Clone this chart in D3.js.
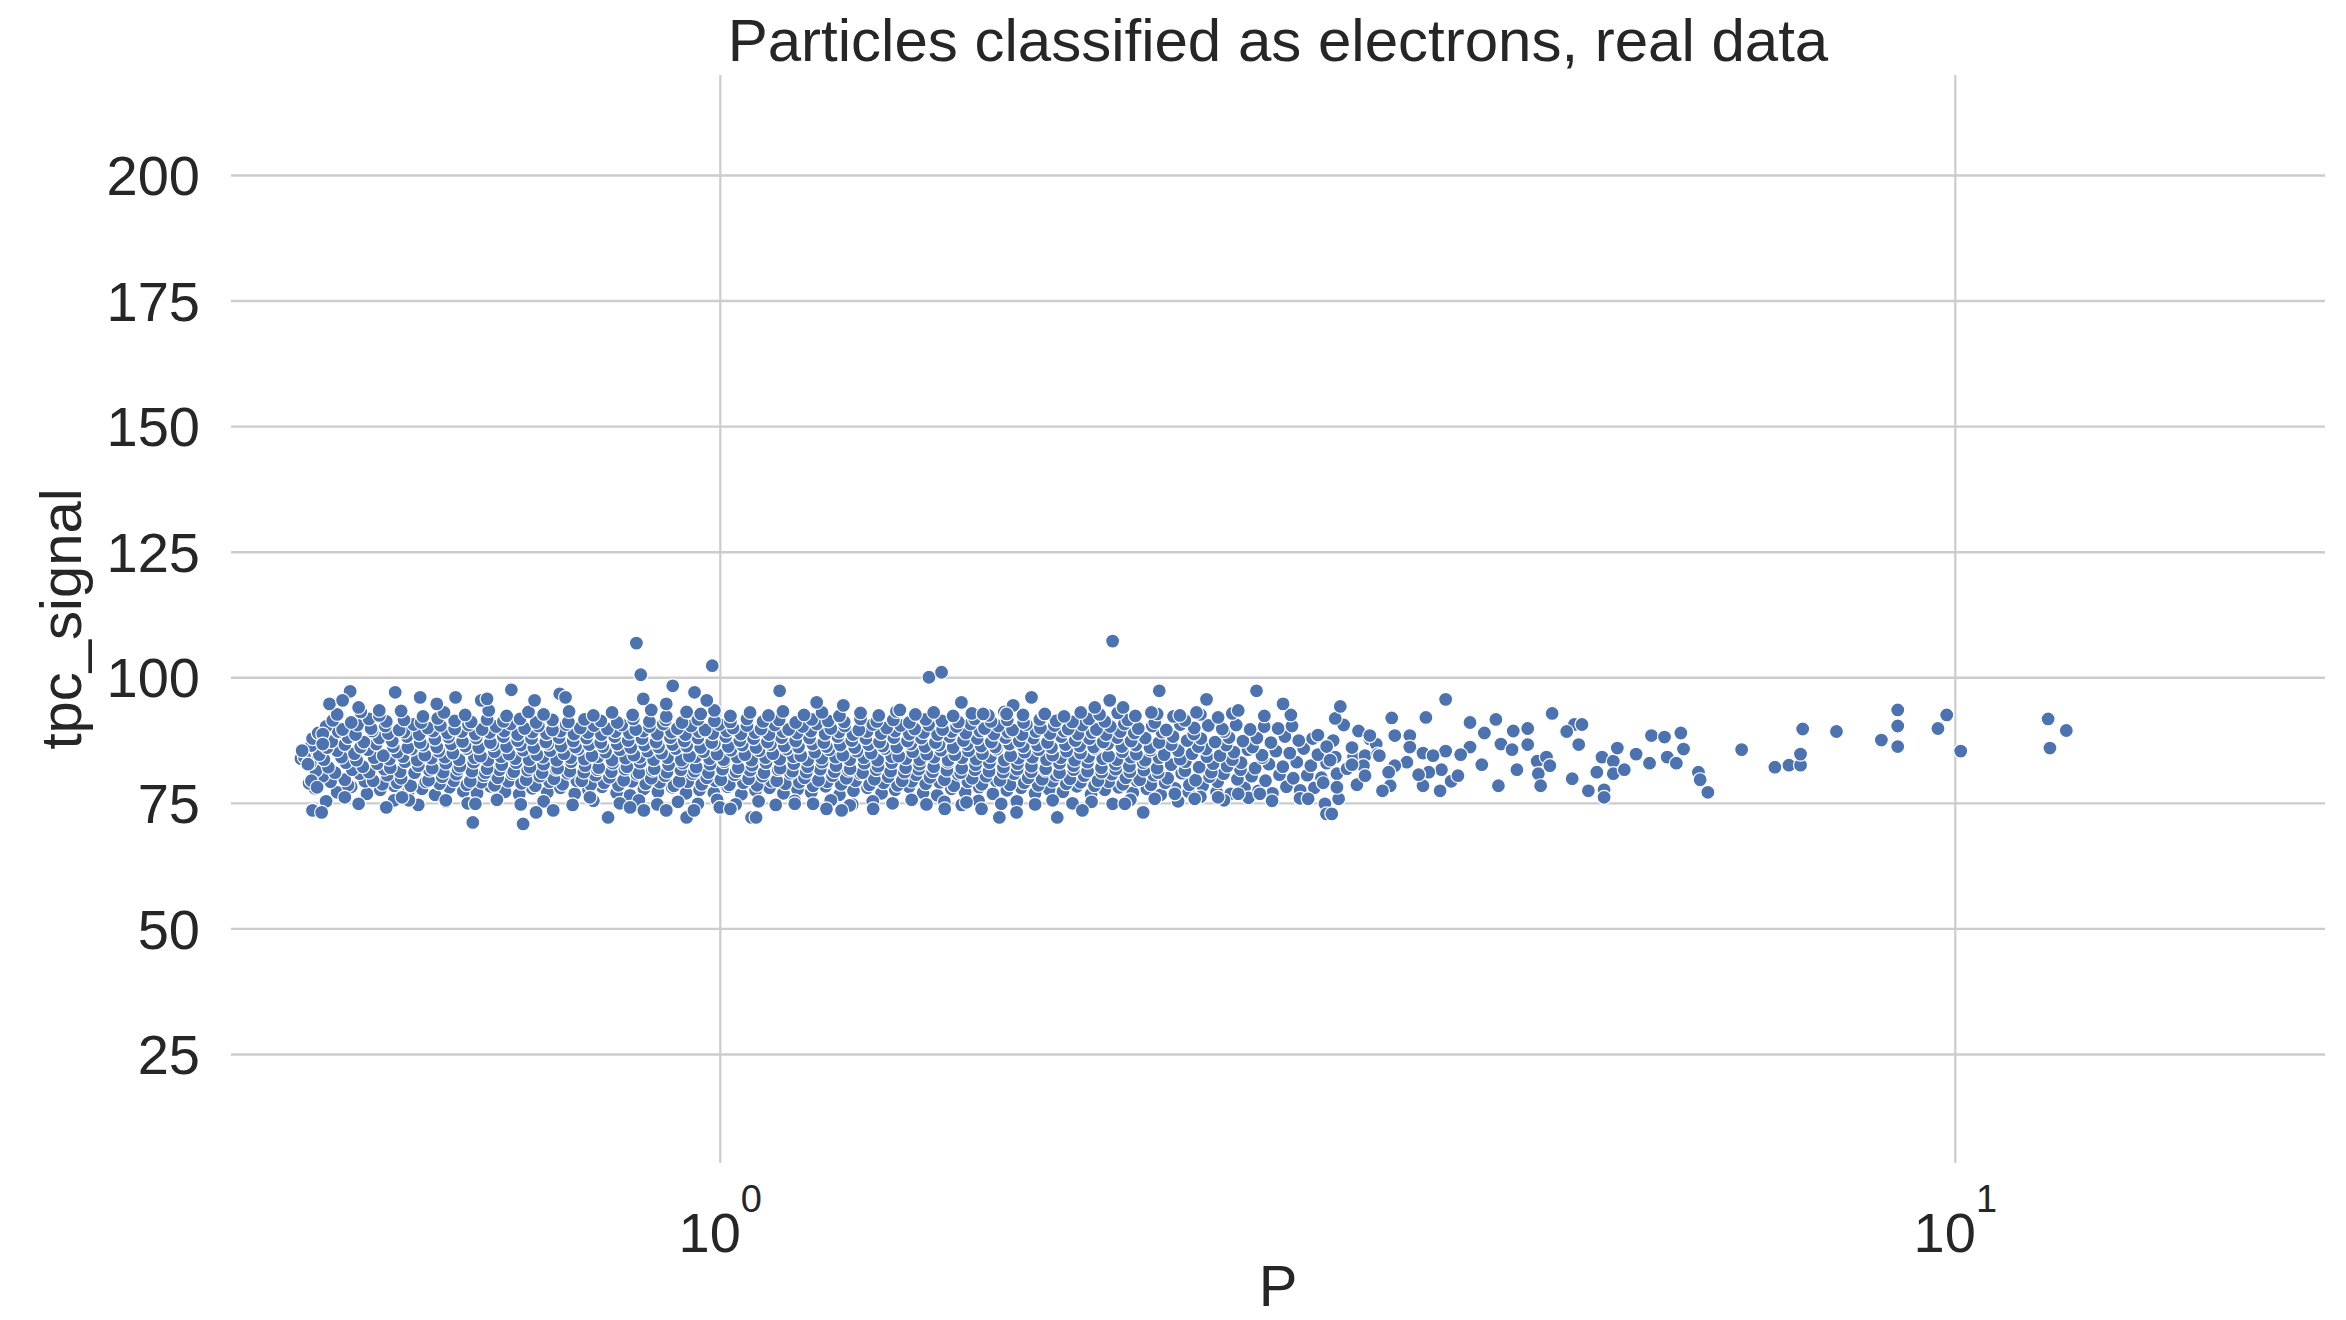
<!DOCTYPE html>
<html><head><meta charset="utf-8">
<script src="https://cdn.jsdelivr.net/npm/d3@7"></script>
<style>
html,body{margin:0;padding:0;background:#fff;}
svg{display:block;}
text{font-family:"Liberation Sans", Arial, sans-serif; fill:#262626;}
</style></head><body>
<svg id="chart" width="2346" height="1320"></svg>
<script>
// ---------------- texts & ticks ----------------
const chartTitle = "Particles classified as electrons, real data";
const xLabel = "P";
const yLabel = "tpc_signal";
const yTicks = [25, 50, 75, 100, 125, 150, 175, 200];
const xTicks = [1, 10];
const xTickBase = "10";
const xTickExponents = ["0", "1"];
const xDomain = [0.402, 19.94];
const yDomain = [3.3, 219.9];

// ---------------- data: [P, tpc_signal] ----------------
const strip77 = [[0.47,77.9],[0.49,77.1],[0.503,78.2],[0.518,76.8],[0.531,77.6],[0.545,78.4],[0.559,77.0],[0.574,77.8],[0.588,76.6],[0.604,78.1],[0.620,77.3],[0.636,76.9],[0.652,78.3],[0.670,77.2],[0.688,76.7],[0.705,77.9],[0.725,77.1],[0.743,78.0],[0.763,76.8],[0.783,77.5],[0.803,78.2],[0.825,77.0],[0.846,76.5],[0.868,77.8],[0.891,77.2],[0.915,78.1],[0.939,76.9],[0.963,77.6],[0.989,77.0],[1.015,78.2],[1.041,76.7],[1.069,77.5],[1.097,78.0],[1.126,76.9],[1.156,77.7],[1.186,77.1],[1.218,78.3],[1.250,76.6],[1.283,77.4],[1.317,78.0],[1.352,76.9],[1.387,77.6],[1.423,78.2],[1.461,77.0],[1.500,76.5],[1.540,77.8],[1.580,77.1],[1.622,78.1],[1.664,76.8],[1.708,77.5],[1.754,78.0],[1.800,76.9],[1.848,77.7],[1.896,77.2],[1.946,78.3],[1.998,76.7],[2.050,77.6],[2.104,78.1],[2.160,77.0],[2.217,77.8],[2.275,76.6],[2.336,77.9],[2.397,77.2],[2.460,78.4],[2.525,77.1],[2.592,76.8],[2.660,78.0],[2.730,77.4],[2.802,76.9],[2.876,78.2],[2.951,77.5],[3.03,78.0]];
const strip79 = [[0.465,78.9],[0.484,79.2],[0.500,78.5],[0.516,79.3],[0.533,78.7],[0.548,79.0],[0.562,78.4],[0.578,79.2],[0.593,78.8],[0.609,79.4],[0.624,78.6],[0.641,79.1],[0.657,78.5],[0.674,79.3],[0.691,78.9],[0.709,78.4],[0.728,79.2],[0.746,78.7],[0.766,79.4],[0.786,78.6],[0.806,79.0],[0.828,78.5],[0.849,79.3],[0.871,78.8],[0.894,79.1],[0.918,78.4],[0.942,79.2],[0.967,78.7],[0.992,79.4],[1.018,78.6],[1.045,79.0],[1.072,78.5],[1.101,79.3],[1.130,78.8],[1.160,79.1],[1.190,78.4],[1.222,79.2],[1.254,78.7],[1.288,79.4],[1.322,78.6],[1.357,79.0],[1.393,78.5],[1.430,79.3],[1.468,78.8],[1.507,79.1],[1.547,78.4],[1.588,79.2],[1.630,78.7],[1.674,79.4],[1.718,78.6],[1.764,79.0],[1.811,78.5],[1.859,79.3],[1.908,78.8],[1.959,79.1],[2.011,78.4],[2.065,79.2],[2.120,78.7],[2.176,79.4],[2.234,78.6],[2.294,79.0],[2.40,78.6],[2.53,79.2]];
const strip80 = [[0.477,80.3],[0.497,79.6],[0.511,80.8],[0.524,79.4],[0.538,80.5],[0.552,79.9],[0.567,80.9],[0.581,79.5],[0.596,80.2],[0.612,80.7],[0.628,79.3],[0.644,80.4],[0.661,80.0],[0.679,80.8],[0.697,79.6],[0.715,80.3],[0.734,79.8],[0.753,80.9],[0.773,79.4],[0.793,80.5],[0.814,80.1],[0.836,79.5],[0.857,80.7],[0.880,79.9],[0.903,80.4],[0.927,79.3],[0.951,80.8],[0.976,80.0],[1.002,79.6],[1.028,80.6],[1.055,79.8],[1.083,80.3],[1.112,79.4],[1.141,80.9],[1.171,80.0],[1.202,79.5],[1.234,80.4],[1.266,79.9],[1.300,80.8],[1.334,79.7],[1.369,80.2],[1.405,79.4],[1.442,80.6],[1.480,80.1],[1.520,79.6],[1.560,80.7],[1.601,79.9],[1.643,80.3],[1.686,79.5],[1.731,80.8],[1.777,80.0],[1.824,79.7],[1.872,80.5],[1.921,79.8],[1.972,80.4],[2.024,79.4],[2.077,80.7],[2.132,80.0],[2.188,79.6],[2.246,80.5],[2.305,79.9],[2.366,80.9],[2.428,79.5],[2.492,80.2],[2.558,80.8],[2.625,79.7],[2.695,80.3],[2.766,79.4],[2.839,80.6],[2.913,79.9],[2.990,80.5],[3.07,80.0]];
const strip81 = [[0.471,81.4],[0.488,81.0],[0.504,81.6],[0.520,81.1],[0.535,81.7],[0.551,81.2],[0.566,81.0],[0.582,81.5],[0.597,81.1],[0.614,81.7],[0.630,81.3],[0.646,81.0],[0.663,81.6],[0.681,81.2],[0.699,81.5],[0.718,81.0],[0.737,81.7],[0.756,81.3],[0.776,81.1],[0.796,81.6],[0.817,81.2],[0.838,81.7],[0.860,81.0],[0.882,81.5],[0.906,81.1],[0.930,81.6],[0.954,81.3],[0.979,81.0],[1.005,81.7],[1.031,81.2],[1.058,81.5],[1.086,81.0],[1.115,81.6],[1.145,81.3],[1.175,81.1],[1.206,81.7],[1.238,81.2],[1.271,81.5],[1.305,81.0],[1.339,81.6],[1.375,81.3],[1.411,81.1],[1.449,81.7],[1.487,81.2],[1.527,81.5],[1.567,81.0],[1.609,81.6],[1.652,81.3],[1.696,81.1],[1.741,81.7],[1.787,81.2],[1.835,81.5],[1.884,81.0],[1.934,81.6],[1.985,81.3],[2.038,81.1],[2.092,81.7],[2.148,81.2],[2.205,81.5],[2.264,81.0],[2.38,81.4],[2.50,81.1],[2.64,81.6]];
const strip82 = [[0.466,82.9],[0.482,82.1],[0.498,83.0],[0.514,82.2],[0.528,82.8],[0.541,82.0],[0.556,83.2],[0.570,82.4],[0.585,81.9],[0.600,82.9],[0.616,82.3],[0.632,83.1],[0.648,81.8],[0.666,82.6],[0.684,83.0],[0.702,82.1],[0.720,82.7],[0.739,81.9],[0.758,83.2],[0.778,82.4],[0.798,82.0],[0.819,82.9],[0.841,82.2],[0.862,83.1],[0.885,81.8],[0.909,82.6],[0.933,82.9],[0.957,82.1],[0.982,82.7],[1.008,83.2],[1.035,82.0],[1.062,82.5],[1.090,83.0],[1.119,81.9],[1.148,82.8],[1.178,82.2],[1.210,83.1],[1.242,82.4],[1.275,81.8],[1.309,82.9],[1.343,82.3],[1.378,83.0],[1.414,82.0],[1.451,82.7],[1.490,82.2],[1.530,83.1],[1.570,81.9],[1.611,82.6],[1.653,83.0],[1.697,82.1],[1.742,82.8],[1.788,82.3],[1.836,81.8],[1.884,82.9],[1.934,82.4],[1.985,83.1],[2.037,82.0],[2.091,82.7],[2.146,82.3],[2.202,83.0],[2.260,81.9],[2.320,82.6],[2.382,83.2],[2.444,82.1],[2.509,82.8],[2.575,82.3],[2.643,83.0],[2.713,81.9],[2.784,82.7],[2.857,82.2],[2.932,83.1],[3.01,82.4],[3.10,82.9]];
const strip84 = [[0.463,83.9],[0.478,83.6],[0.494,84.1],[0.508,83.5],[0.525,84.0],[0.540,83.7],[0.554,84.2],[0.569,83.5],[0.584,83.9],[0.599,84.1],[0.615,83.6],[0.633,84.0],[0.649,83.5],[0.665,84.2],[0.683,83.8],[0.701,83.6],[0.719,84.1],[0.738,83.5],[0.757,84.0],[0.777,83.7],[0.797,84.2],[0.818,83.5],[0.839,83.9],[0.861,84.1],[0.884,83.6],[0.907,84.0],[0.931,83.5],[0.956,84.2],[0.981,83.8],[1.007,83.6],[1.033,84.1],[1.061,83.5],[1.089,84.0],[1.118,83.7],[1.147,84.2],[1.178,83.5],[1.209,83.9],[1.241,84.1],[1.274,83.6],[1.308,84.0],[1.342,83.5],[1.378,84.2],[1.415,83.8],[1.452,83.6],[1.491,84.1],[1.531,83.5],[1.571,84.0],[1.613,83.7],[1.656,84.2],[1.700,83.5],[1.745,83.9],[1.791,84.1],[1.839,83.6],[1.888,84.0],[1.938,83.5],[1.989,84.2],[2.042,83.8],[2.097,83.6],[2.152,84.1],[2.210,83.5],[2.268,84.0],[2.36,83.7],[2.48,84.2],[2.60,83.6],[2.75,84.0]];
const strip85 = [[0.462,85.2],[0.474,84.6],[0.490,85.4],[0.506,84.8],[0.519,85.6],[0.534,84.4],[0.548,85.1],[0.563,85.7],[0.577,84.5],[0.592,85.3],[0.608,84.9],[0.624,85.8],[0.640,84.3],[0.657,85.2],[0.675,84.7],[0.693,85.5],[0.711,84.6],[0.729,85.4],[0.748,84.8],[0.768,85.7],[0.788,84.4],[0.808,85.1],[0.830,85.6],[0.852,84.5],[0.874,85.3],[0.897,84.9],[0.921,85.8],[0.945,84.3],[0.970,85.2],[0.995,84.7],[1.021,85.5],[1.048,84.6],[1.076,85.4],[1.104,84.8],[1.133,85.7],[1.163,84.4],[1.194,85.1],[1.226,85.6],[1.258,84.5],[1.291,85.3],[1.326,84.9],[1.360,85.8],[1.396,84.3],[1.433,85.2],[1.471,84.7],[1.510,85.5],[1.550,84.6],[1.590,85.4],[1.632,84.8],[1.675,85.7],[1.720,84.4],[1.765,85.1],[1.812,85.6],[1.860,84.5],[1.909,85.3],[1.959,84.9],[2.011,85.8],[2.064,84.3],[2.118,85.2],[2.174,84.7],[2.231,85.5],[2.290,84.6],[2.351,85.4],[2.412,84.8],[2.476,85.7],[2.541,84.4],[2.608,85.1],[2.677,85.6],[2.748,84.5],[2.820,85.3],[2.894,84.9],[2.970,85.8],[3.05,84.6]];
const strip86 = [[0.467,86.4],[0.481,86.0],[0.497,86.6],[0.512,86.1],[0.527,86.7],[0.544,86.2],[0.559,86.0],[0.575,86.5],[0.590,86.1],[0.606,86.7],[0.622,86.3],[0.638,86.0],[0.655,86.6],[0.672,86.2],[0.690,86.5],[0.707,86.0],[0.726,86.7],[0.744,86.3],[0.764,86.1],[0.784,86.6],[0.804,86.2],[0.826,86.7],[0.847,86.0],[0.869,86.5],[0.892,86.1],[0.916,86.6],[0.940,86.3],[0.965,86.0],[0.990,86.7],[1.016,86.2],[1.043,86.5],[1.070,86.0],[1.099,86.6],[1.128,86.3],[1.158,86.1],[1.189,86.7],[1.220,86.2],[1.252,86.5],[1.286,86.0],[1.320,86.6],[1.355,86.3],[1.391,86.1],[1.428,86.7],[1.466,86.2],[1.505,86.5],[1.545,86.0],[1.586,86.6],[1.628,86.3],[1.671,86.1],[1.716,86.7],[1.761,86.2],[1.808,86.5],[1.856,86.0],[1.905,86.6],[1.956,86.3],[2.008,86.1],[2.061,86.7],[2.116,86.2],[2.172,86.5],[2.23,86.0],[2.32,86.6],[2.44,86.2],[2.57,86.5],[2.70,86.1]];
const strip87 = [[0.468,87.8],[0.485,87.2],[0.500,88.0],[0.515,87.1],[0.530,87.9],[0.543,87.3],[0.558,88.2],[0.572,87.0],[0.588,87.7],[0.603,88.1],[0.619,87.2],[0.635,87.9],[0.652,87.0],[0.668,88.2],[0.686,87.4],[0.704,87.8],[0.723,87.1],[0.741,88.0],[0.761,87.3],[0.780,87.9],[0.801,87.0],[0.822,88.2],[0.843,87.4],[0.865,87.8],[0.888,87.1],[0.912,88.0],[0.936,87.3],[0.960,87.9],[0.985,87.0],[1.011,88.2],[1.038,87.4],[1.065,87.8],[1.093,87.1],[1.122,88.0],[1.152,87.3],[1.182,87.9],[1.214,87.0],[1.246,88.2],[1.279,87.4],[1.313,87.8],[1.347,87.1],[1.383,88.0],[1.419,87.3],[1.456,87.9],[1.495,87.0],[1.535,88.2],[1.575,87.4],[1.616,87.8],[1.659,87.1],[1.703,88.0],[1.748,87.3],[1.794,87.9],[1.842,87.0],[1.890,88.2],[1.940,87.4],[1.992,87.8],[2.044,87.1],[2.098,88.0],[2.153,87.3],[2.210,87.9],[2.268,87.0],[2.328,88.2],[2.390,87.4],[2.452,87.8],[2.518,87.1],[2.584,88.0],[2.652,87.3],[2.722,87.9],[2.794,87.0],[2.868,88.2],[2.943,87.4],[3.02,87.8]];
const strip89 = [[0.473,88.9],[0.491,89.2],[0.507,88.6],[0.523,89.3],[0.539,88.8],[0.555,89.1],[0.571,88.6],[0.586,89.3],[0.602,88.9],[0.618,89.2],[0.634,88.7],[0.651,89.0],[0.669,89.3],[0.686,88.6],[0.705,89.1],[0.724,88.8],[0.743,89.3],[0.762,88.7],[0.782,89.0],[0.802,88.6],[0.823,89.2],[0.845,88.9],[0.867,89.3],[0.890,88.7],[0.914,89.1],[0.938,88.6],[0.962,89.2],[0.987,88.8],[1.013,89.3],[1.040,88.7],[1.068,89.0],[1.096,88.6],[1.125,89.2],[1.155,88.9],[1.185,89.3],[1.217,88.7],[1.249,89.1],[1.282,88.6],[1.316,89.2],[1.351,88.8],[1.387,89.3],[1.424,88.7],[1.462,89.0],[1.501,88.6],[1.541,89.2],[1.582,88.9],[1.624,89.3],[1.667,88.7],[1.711,89.1],[1.757,88.6],[1.803,89.2],[1.851,88.8],[1.900,89.3],[1.950,88.7],[2.002,89.0],[2.055,88.6],[2.110,89.2],[2.166,88.9],[2.28,89.1],[2.42,88.7],[2.56,89.2]];
const strip90 = [[0.480,90.2],[0.495,89.6],[0.509,90.5],[0.522,89.8],[0.536,90.3],[0.550,89.5],[0.565,90.6],[0.580,89.9],[0.594,90.4],[0.610,89.7],[0.626,90.5],[0.642,89.6],[0.659,90.2],[0.677,90.7],[0.695,89.8],[0.713,90.3],[0.732,89.5],[0.751,90.6],[0.771,89.9],[0.791,90.4],[0.811,89.7],[0.833,90.5],[0.855,89.6],[0.877,90.2],[0.900,90.7],[0.924,89.8],[0.948,90.3],[0.973,89.5],[0.999,90.6],[1.025,89.9],[1.052,90.4],[1.080,89.7],[1.108,90.5],[1.137,89.6],[1.167,90.2],[1.198,90.7],[1.230,89.8],[1.262,90.3],[1.296,89.5],[1.330,90.6],[1.365,89.9],[1.401,90.4],[1.438,89.7],[1.476,90.5],[1.515,89.6],[1.555,90.2],[1.596,90.7],[1.638,89.8],[1.681,90.3],[1.726,89.5],[1.771,90.6],[1.818,89.9],[1.866,90.4],[1.915,89.7],[1.966,90.5],[2.018,89.6],[2.071,90.2],[2.126,90.7],[2.182,89.8],[2.240,90.3],[2.299,89.5],[2.360,90.6],[2.422,89.9],[2.486,90.4],[2.552,89.7],[2.619,90.5],[2.688,89.6],[2.759,90.2],[2.832,89.8],[2.906,90.3]];
const strip91 = [[0.486,91.4],[0.503,91.0],[0.520,91.7],[0.537,91.2],[0.555,91.5],[0.573,91.0],[0.591,91.8],[0.610,91.3],[0.629,91.1],[0.648,91.6],[0.668,91.2],[0.689,91.7],[0.710,91.0],[0.732,91.5],[0.754,91.1],[0.777,91.6],[0.801,91.3],[0.826,91.0],[0.851,91.7],[0.877,91.2],[0.904,91.5],[0.932,91.0],[0.960,91.6],[0.990,91.3],[1.020,91.1],[1.052,91.7],[1.084,91.2],[1.117,91.5],[1.152,91.0],[1.187,91.6],[1.224,91.3],[1.261,91.1],[1.300,91.7],[1.340,91.2],[1.382,91.5],[1.424,91.0],[1.468,91.6],[1.513,91.3],[1.560,91.1],[1.608,91.7],[1.658,91.2],[1.709,91.5],[1.762,91.0],[1.816,91.6],[1.872,91.3],[1.930,91.1],[1.990,91.7],[2.05,91.2],[2.14,91.5],[2.25,91.0],[2.38,91.4]];
const strip92 = [[0.490,92.6],[0.512,93.1],[0.530,92.4],[0.552,93.3],[0.575,92.2],[0.598,93.0],[0.622,92.5],[0.650,93.4],[0.672,92.3],[0.700,93.1],[0.720,92.6],[0.755,93.2],[0.790,92.4],[0.818,93.0],[0.850,92.5],[0.880,93.5],[0.905,92.2],[0.940,93.1],[0.965,92.7],[0.990,93.4],[1.020,92.3],[1.058,93.0],[1.095,92.4],[1.125,93.2],[1.170,92.5],[1.210,93.0],[1.250,92.3],[1.300,92.9],[1.345,92.4],[1.390,93.2],[1.440,92.6],[1.490,93.0],[1.545,92.3],[1.600,92.8],[1.650,92.4],[1.700,93.1],[1.760,92.5],[1.830,92.8],[1.900,92.2],[1.960,93.0],[2.030,92.6],[2.100,92.9],[2.170,92.3],[2.260,92.7],[2.330,92.2],[2.450,92.6],[2.600,92.8],[2.760,92.3],[2.900,92.5]];
const strip75 = [[0.480,75.3],[0.510,74.8],[0.545,75.5],[0.570,74.6],[0.600,75.2],[0.625,74.9],[0.660,75.6],[0.690,74.7],[0.720,75.3],[0.760,74.6],[0.790,75.4],[0.830,74.9],[0.860,75.5],[0.890,74.7],[0.925,75.2],[0.960,74.8],[0.995,75.6],[1.030,74.7],[1.075,75.3],[1.110,74.6],[1.150,75.4],[1.190,74.8],[1.230,75.5],[1.280,74.7],[1.330,75.3],[1.380,74.9],[1.430,75.6],[1.470,74.7],[1.520,75.2],[1.570,74.6],[1.620,75.4],[1.690,74.8],[1.740,75.3],[1.800,74.7],[1.860,75.5],[1.930,74.9],[2.000,75.2],[2.080,74.8],[2.150,75.6],[2.250,75.8],[2.350,75.3],[2.450,76.2],[2.560,75.5],[2.680,76.0],[2.800,75.4],[2.950,75.9]];
const edgeLow = [[0.856,106.8],[0.863,100.5],[0.986,102.3],[0.916,98.3],[1.118,97.3],[0.678,97.5],[0.546,97.0],[0.502,97.2],[0.483,94.7],[0.495,95.4],[0.572,96.0],[0.611,96.0],[0.641,95.4],[0.648,95.7],[0.742,96.7],[0.750,96.0],[0.954,97.0],[0.976,95.4],[0.905,94.7],[0.867,95.7],[0.590,94.7],[0.708,95.4],[0.530,93.4],[0.510,94.0],[0.458,83.8],[0.461,84.1],[0.464,82.7],[0.459,85.4],[0.477,88.7],[0.477,86.7],[0.467,79.4],[0.472,78.1],[0.468,73.5],[0.476,73.1],[0.497,76.1],[0.537,74.1],[0.631,71.1],[0.693,70.8],[0.634,74.8],[0.710,73.1],[0.733,73.5],[0.812,72.1],[0.846,74.1],[0.868,73.5],[0.905,73.5],[0.940,72.1],[0.953,73.5],[1.000,74.1],[1.020,73.8],[1.061,72.1],[1.070,72.1],[1.150,74.8],[0.785,76.1],[0.560,75.5],[0.600,75.5],[0.553,76.1]];
const edgeMid = [[2.080,107.2],[1.477,100.0],[1.512,101.0],[1.788,96.0],[2.269,97.3],[2.720,97.3],[2.478,95.6],[2.858,94.7],[2.069,95.4],[2.629,93.4],[1.569,95.0],[1.833,92.7],[1.259,94.4],[1.198,95.0],[1.399,93.5],[1.728,94.4],[1.707,92.7],[1.634,92.7],[2.532,92.0],[2.358,92.4],[2.432,93.0],[2.236,93.0],[2.012,94.0],[2.121,94.0],[1.684,72.1],[1.739,73.1],[1.876,72.1],[1.966,73.5],[2.202,73.1],[2.128,74.8],[1.521,73.8],[1.331,73.8],[1.274,74.5],[1.255,73.5],[1.220,73.8],[1.629,73.8],[1.584,75.1],[2.424,75.8],[2.532,76.1],[2.629,76.8],[2.737,76.8],[2.995,75.8],[3.090,74.8],[3.099,72.8],[2.336,76.8]];
const sparseHigh = [[3.138,87.4],[3.15,84.1],[3.16,80.8],[3.17,75.8],[3.13,72.8],[3.16,78.1],[3.26,84.1],[3.33,84.4],[3.36,87.7],[3.40,86.7],[3.41,84.7],[3.32,82.4],[3.05,88.5],[3.10,86.2],[3.12,83.5],[3.08,79.0],[3.20,90.5],[3.22,81.8],[3.25,86.0],[3.28,78.6],[3.15,91.8],[3.18,94.2],[3.87,95.6],[4.72,92.8],[3.50,91.9],[3.73,92.0],[4.05,91.0],[4.25,91.6],[4.92,90.6],[4.99,90.6],[4.85,89.2],[4.96,86.6],[3.29,89.3],[3.36,88.4],[3.52,88.4],[3.62,88.4],[4.16,88.9],[4.39,89.3],[4.51,89.8],[4.51,86.6],[4.29,86.7],[4.38,85.6],[4.05,86.1],[3.87,85.3],[3.71,84.9],[3.78,84.4],[3.98,84.6],[3.42,84.4],[3.62,86.1],[3.25,82.6],[3.33,80.4],[3.49,78.4],[3.44,77.4],[3.71,78.4],[3.83,77.4],[3.91,79.3],[3.96,80.4],[3.84,81.6],[3.75,81.1],[3.68,80.6],[3.60,83.1],[3.52,82.4],[3.48,81.1],[4.14,82.6],[4.27,78.4],[4.42,81.6],[4.59,83.3],[4.67,84.1],[4.70,82.4],[4.60,80.8],[4.62,78.4],[4.90,79.8],[5.05,77.4],[5.20,77.6],[5.20,76.1],[5.13,81.1],[5.18,84.1],[5.29,83.3],[5.29,80.8],[5.33,85.9],[5.40,81.6],[5.52,84.7],[5.66,82.9],[5.68,88.4],[5.82,88.1],[6.00,88.9],[6.03,85.7],[5.85,84.1],[5.95,82.9],[6.20,81.1],[6.22,79.6],[6.31,77.1]];
const tailPoints = [[6.72,85.6],[7.15,82.1],[7.34,82.5],[7.50,82.5],[7.50,84.7],[7.53,89.7],[8.02,89.2],[8.99,93.5],[8.99,90.3],[8.99,86.2],[8.72,87.5],[9.85,92.5],[9.69,89.8],[10.11,85.3],[11.90,91.7],[12.31,89.4],[11.94,85.9]];

// ---------------- drawing ----------------
const W = 2346, H = 1320;
const plot = {left: 231, right: 2325, top: 75, bottom: 1163};
const svg = d3.select("#chart");
svg.append("rect").attr("width", W).attr("height", H).attr("fill", "#ffffff");

const x = d3.scaleLog().domain(xDomain).range([plot.left, plot.right]);
const y = d3.scaleLinear().domain(yDomain).range([plot.bottom, plot.top]);

const gridColor = "#cccccc";

// y axis + horizontal grid
const yAxis = svg.append("g")
  .attr("transform", `translate(${plot.left},0)`)
  .call(d3.axisLeft(y).tickValues(yTicks).tickSize(-(plot.right - plot.left)).tickPadding(31).tickFormat(d3.format("d")));
yAxis.select(".domain").remove();
yAxis.selectAll(".tick line").attr("stroke", gridColor).attr("stroke-width", 2.4);
yAxis.selectAll(".tick text").attr("font-size", 56).attr("fill", "#262626")
  .attr("font-family", '"Liberation Sans", Arial, sans-serif').attr("dy", "0.35em");

// x axis + vertical grid
const xAxis = svg.append("g")
  .attr("transform", `translate(0,${plot.bottom})`)
  .call(d3.axisBottom(x).tickValues(xTicks).tickSize(-(plot.bottom - plot.top)).tickFormat(() => ""));
xAxis.select(".domain").remove();
xAxis.selectAll(".tick line").attr("stroke", gridColor).attr("stroke-width", 2.2);
xAxis.selectAll(".tick text").remove();
xAxis.selectAll(".tick").each(function(d, i) {
  const t = d3.select(this).append("text")
    .attr("y", 89).attr("text-anchor", "middle")
    .attr("font-size", 56).attr("fill", "#262626")
    .attr("font-family", '"Liberation Sans", Arial, sans-serif');
  t.append("tspan").text(xTickBase);
  t.append("tspan").attr("dy", -40).attr("font-size", 38).text(xTickExponents[i]);
});

// points
const allPoints = [].concat(strip77, strip79, strip80, strip81, strip82, strip84, strip85, strip86, strip87, strip89, strip90, strip91, strip92, strip75, edgeLow, edgeMid, sparseHigh, tailPoints);
svg.append("g").selectAll("circle").data(allPoints).join("circle")
  .attr("cx", d => x(d[0]))
  .attr("cy", d => y(d[1]))
  .attr("r", 7)
  .attr("fill", "#4c72b0")
  .attr("stroke", "#ffffff")
  .attr("stroke-width", 1.2);

// title and labels
svg.append("text").attr("x", (plot.left + plot.right) / 2).attr("y", 61)
  .attr("text-anchor", "middle").attr("font-size", 60).text(chartTitle);
svg.append("text").attr("x", (plot.left + plot.right) / 2).attr("y", 1306)
  .attr("text-anchor", "middle").attr("font-size", 58).text(xLabel);
svg.append("text").attr("transform", `translate(81,${(plot.top + plot.bottom) / 2}) rotate(-90)`)
  .attr("text-anchor", "middle").attr("font-size", 58).text(yLabel);
</script>
</body></html>
